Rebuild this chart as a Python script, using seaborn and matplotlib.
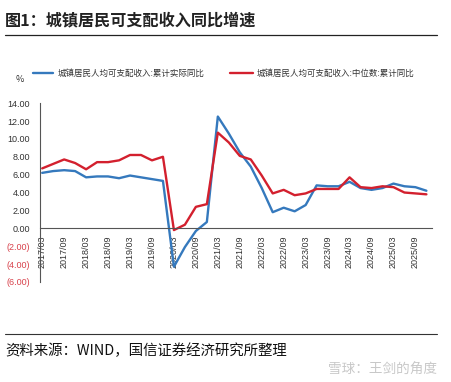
import numpy as np
import pandas as pd
import matplotlib
matplotlib.use("Agg")
import matplotlib.pyplot as plt
import seaborn as sns

# quarterly data, 2017Q1 - 2025Q4
quarters = [f"{y}/{m:02d}" for y in range(2017, 2026) for m in (3, 6, 9, 12)]
real_growth = [6.2, 6.4, 6.5, 6.4, 5.7, 5.8, 5.8, 5.6, 5.9, 5.7, 5.5, 5.3,
               -4.3, -2.1, -0.3, 0.7, 12.5, 10.6, 8.5, 6.9, 4.5, 1.8, 2.3, 1.9,
               2.6, 4.8, 4.7, 4.7, 5.2, 4.5, 4.3, 4.5, 5.0, 4.7, 4.6, 4.2]
median_growth = [6.7, 7.2, 7.7, 7.3, 6.6, 7.4, 7.4, 7.6, 8.2, 8.2, 7.6, 8.0,
                 -0.2, 0.4, 2.4, 2.7, 10.7, 9.6, 8.1, 7.7, 5.9, 3.9, 4.3, 3.7,
                 3.9, 4.4, 4.4, 4.4, 5.7, 4.6, 4.5, 4.7, 4.6, 4.0, 3.9, 3.8]
series_names = ["城镇居民人均可支配收入:累计实际同比", "城镇居民人均可支配收入:中位数:累计同比"]
yticks = [-6, -4, -2, 0, 2, 4, 6, 8, 10, 12, 14]

sns.set_style("white")
plt.rcParams['font.family'] = ['Noto Sans CJK SC', 'DejaVu Sans']

df = pd.DataFrame({"idx": np.arange(len(quarters)), "quarter": quarters,
                   series_names[0]: real_growth, series_names[1]: median_growth})
long_df = df.melt(id_vars=["idx", "quarter"], var_name="series", value_name="value")

fig = plt.figure(figsize=(4.52, 3.82), dpi=100)
ax = fig.add_axes([0.0885, 0.262, 0.867, 0.468])

sns.lineplot(data=long_df, x="idx", y="value", hue="series", palette=["#3579bd", "#d3202e"],
             linewidth=1.7, ax=ax, legend=False)
for ln in ax.lines:
    ln.set_solid_joinstyle("round")

# spine position first (it resets tick styling)
for s in ["top", "right"]:
    ax.spines[s].set_visible(False)
ax.spines["bottom"].set_position(("data", 0))
ax.spines["left"].set_color("#555555")
ax.spines["bottom"].set_color("#555555")
ax.spines["left"].set_linewidth(0.8)
ax.spines["bottom"].set_linewidth(0.8)

ax.set_xlim(-0.2, 35.5)
ax.set_ylim(-6, 14)
ax.set_yticks(yticks)
ylabels = [f"({abs(v):.2f})" if v < 0 else f"{v:.2f}" for v in yticks]
ax.set_yticklabels(ylabels, fontsize=6.5, family=['Liberation Sans', 'DejaVu Sans'])
for lab, v in zip(ax.get_yticklabels(), yticks):
    lab.set_color("#d8414b" if v < 0 else "#333333")

tick_idx = list(range(0, len(quarters), 2))
ax.set_xticks(tick_idx)
ax.set_xticklabels([quarters[i] for i in tick_idx], rotation=90, fontsize=6.5,
                   color="#333333", family=['Liberation Sans', 'DejaVu Sans'])
ax.set_xlabel("")
ax.set_ylabel("")
ax.tick_params(axis="y", direction="out", length=3, width=0.8, color="#555555", pad=4)
ax.tick_params(axis="x", direction="out", length=3, width=0.8, color="#555555", pad=2)

# legend
fig.lines.append(plt.Line2D([33 / 452, 53 / 452], [1 - 73 / 382] * 2, color="#3579bd", lw=1.7,
                            transform=fig.transFigure))
fig.text(58 / 452, 1 - 73 / 382, series_names[0], fontsize=6.1, va="center", color="#333333")
fig.lines.append(plt.Line2D([230 / 452, 253 / 452], [1 - 73 / 382] * 2, color="#d3202e", lw=1.7,
                            transform=fig.transFigure))
fig.text(257 / 452, 1 - 73 / 382, series_names[1], fontsize=6.1, va="center", color="#333333")
fig.text(16 / 452, 1 - 80 / 382, "%", fontsize=6.5, va="center", color="#333333")

# title, rules, source
fig.text(5 / 452, 1 - 20 / 382, "图1：城镇居民可支配收入同比增速", fontsize=11.6, va="center",
         color="#222222", fontweight="bold")
fig.lines.append(plt.Line2D([5 / 452, 437 / 452], [1 - 35 / 382] * 2, color="#222222", lw=0.9,
                            transform=fig.transFigure))
fig.lines.append(plt.Line2D([5 / 452, 437 / 452], [1 - 334 / 382] * 2, color="#333333", lw=0.8,
                            transform=fig.transFigure))
fig.text(5 / 452, 1 - 351 / 382, "资料来源：WIND，国信证券经济研究所整理", fontsize=10.4, va="center",
         color="#111111")
fig.text(437 / 452, 1 - 370 / 382, "雪球：王剑的角度", fontsize=9.8, va="center", ha="right",
         color="#c8c8c8")

fig.savefig("out.png", dpi=100)
